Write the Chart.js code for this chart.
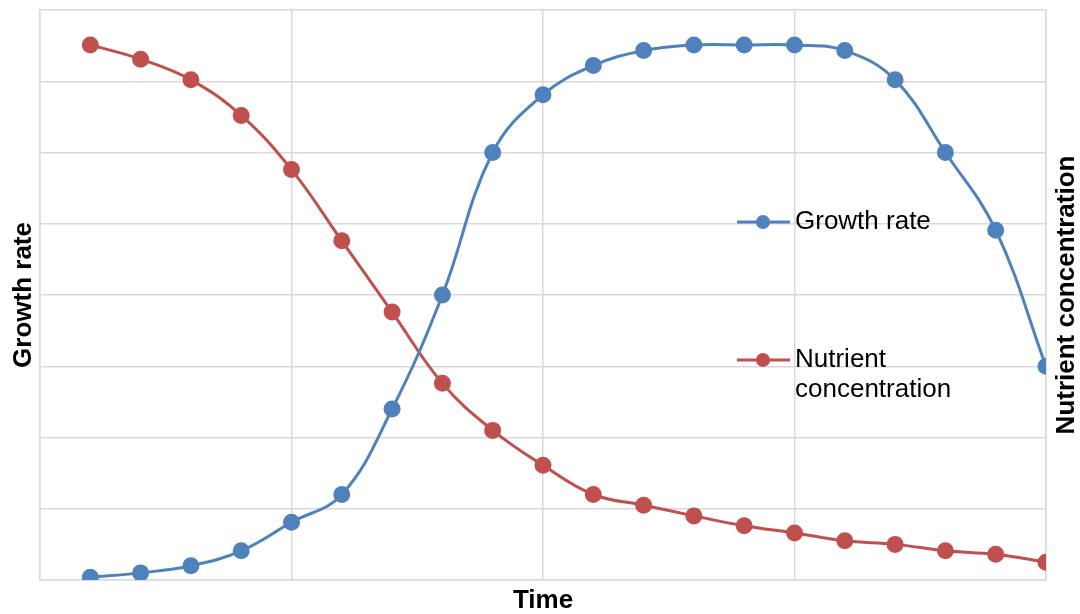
<!DOCTYPE html>
<html>
<head>
<meta charset="utf-8">
<script src="https://cdn.jsdelivr.net/npm/chart.js@4/dist/chart.umd.min.js"></script>
<style>
html,body{margin:0;padding:0;background:#fff;}
#wrap{width:1080px;height:614px;position:relative;}
</style>
</head>
<body>
<div id="wrap"><canvas id="c"></canvas></div>
<script>
const timePoints = [1,2,3,4,5,6,7,8,9,10,11,12,13,14,15,16,17,18,19,20];
const growthRate = [0.04,0.1,0.2,0.41,0.81,1.2,2.4,4.0,6.0,6.81,7.22,7.43,7.51,7.51,7.51,7.43,7.02,6.0,4.91,3.0];
const nutrientConcentration = [7.51,7.31,7.02,6.52,5.76,4.76,3.76,2.76,2.1,1.61,1.2,1.05,0.9,0.76,0.66,0.55,0.5,0.41,0.36,0.25];
const seriesNames = ['Growth rate', 'Nutrient concentration'];
const axisTitles = {x: 'Time', y: 'Growth rate', y2: 'Nutrient concentration'};

const BLUE = '#4F81BD', RED = '#C0504D', GRID = '#D9D9D9';
const FONT = '"Liberation Sans", Arial, sans-serif';
const FS = 26;

const pts = (vals) => vals.map((v, i) => ({x: timePoints[i], y: v}));

const overlay = {
  id: 'overlay',
  afterDraw(chart) {
    const ctx = chart.ctx, a = chart.chartArea;
    ctx.save();
    ctx.fillStyle = '#000';
    ctx.font = 'bold ' + FS + 'px ' + FONT;
    ctx.textAlign = 'center';
    ctx.textBaseline = 'middle';
    // bottom title
    ctx.fillText(axisTitles.x, (a.left + a.right) / 2, 601);
    // left title
    ctx.save();
    ctx.translate(24, (a.top + a.bottom) / 2);
    ctx.rotate(-Math.PI / 2);
    ctx.fillText(axisTitles.y, 0, 0);
    ctx.restore();
    // right title
    ctx.save();
    ctx.translate(1067, (a.top + a.bottom) / 2);
    ctx.rotate(-Math.PI / 2);
    ctx.fillText(axisTitles.y2, 0, 0);
    ctx.restore();
    // legend
    const items = [
      {color: BLUE, y: 222, lines: ['Growth rate']},
      {color: RED, y: 360, lines: ['Nutrient', 'concentration']}
    ];
    ctx.font = FS + 'px ' + FONT;
    ctx.textAlign = 'left';
    items.forEach(it => {
      ctx.strokeStyle = it.color;
      ctx.lineWidth = 3;
      ctx.beginPath();
      ctx.moveTo(737, it.y);
      ctx.lineTo(790, it.y);
      ctx.stroke();
      ctx.fillStyle = it.color;
      ctx.beginPath();
      ctx.arc(763, it.y, 7, 0, Math.PI * 2);
      ctx.fill();
      ctx.fillStyle = '#000';
      it.lines.forEach((t, k) => ctx.fillText(t, 795, it.y + k * 30));
    });
    ctx.restore();
  }
};

new Chart(document.getElementById('c'), {
  type: 'line',
  data: {
    datasets: [
      {label: seriesNames[0], data: pts(growthRate), yAxisID: 'y', borderColor: BLUE, backgroundColor: BLUE,
       borderWidth: 3, pointRadius: 7, pointHoverRadius: 7, tension: 0.4, fill: false},
      {label: seriesNames[1], data: pts(nutrientConcentration), yAxisID: 'y2', borderColor: RED, backgroundColor: RED,
       borderWidth: 3, pointRadius: 7, pointHoverRadius: 7, tension: 0.4, fill: false}
    ]
  },
  options: {
    responsive: true,
    maintainAspectRatio: false,
    animation: false,
    layout: {padding: {left: 0, right: 0, top: 7, bottom: 0}},
    plugins: {legend: {display: false}, tooltip: {enabled: false}},
    scales: {
      x: {
        type: 'linear', min: 0, max: 20,
        ticks: {display: false, stepSize: 5},
        grid: {color: GRID, lineWidth: 1.5, drawTicks: false},
        border: {color: GRID, width: 1.5},
        afterFit: s => { s.height = 34; }
      },
      y: {
        position: 'left', min: 0, max: 8,
        ticks: {display: false, stepSize: 1},
        grid: {color: GRID, lineWidth: 1.5, drawTicks: false},
        border: {color: GRID, width: 1.5},
        afterFit: s => { s.width = 40; }
      },
      y2: {
        position: 'right', min: 0, max: 8,
        ticks: {display: false, stepSize: 1},
        grid: {display: false, drawTicks: false},
        border: {color: GRID, width: 1.5},
        afterFit: s => { s.width = 34; }
      }
    }
  },
  plugins: [overlay]
});
</script>
</body>
</html>
